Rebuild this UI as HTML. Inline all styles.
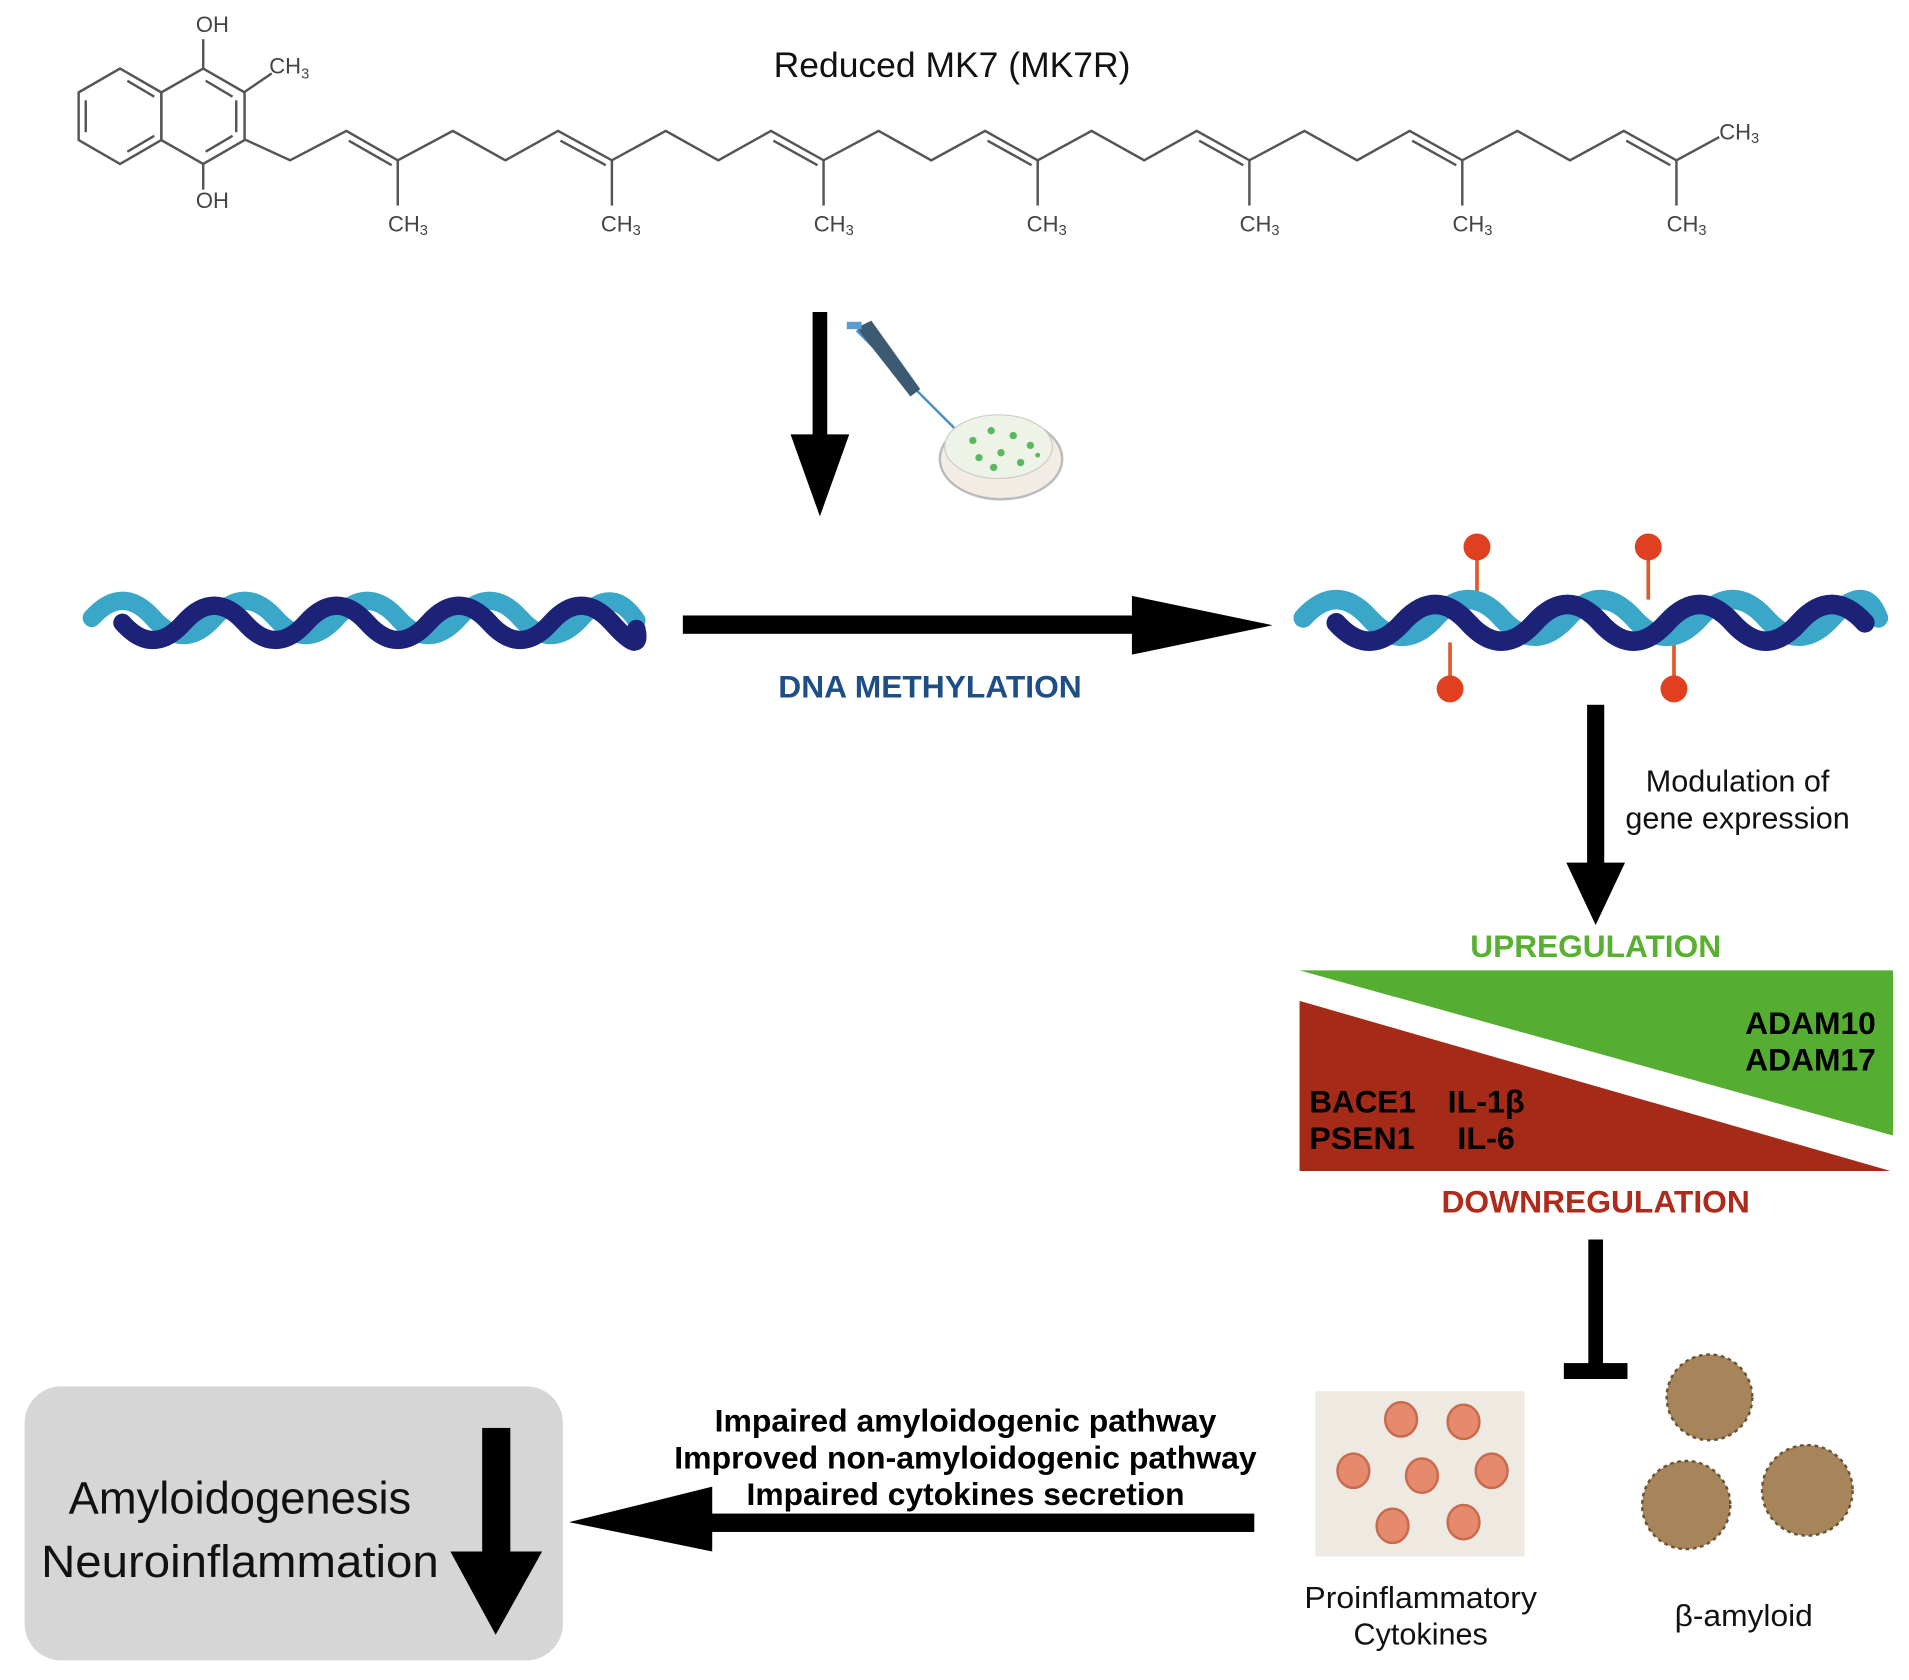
<!DOCTYPE html>
<html><head><meta charset="utf-8"><style>
html,body{margin:0;padding:0;background:#fff;}
svg{display:block}
text{font-family:"Liberation Sans",Arial,sans-serif;}
</style></head><body>
<svg width="1909" height="1680" viewBox="0 0 1560 1373" xmlns="http://www.w3.org/2000/svg">
<rect width="1560" height="1373" fill="#fff"/>
<g stroke="#555" stroke-width="2" fill="none">
<polygon points="98,56 131.8,75.5 131.8,114.5 98,134 64.2,114.5 64.2,75.5"/>
<polygon points="166,56 199.8,75.5 199.8,114.5 166,134 131.8,114.5 131.8,75.5"/>
<line x1="104" y1="66" x2="126" y2="79"/><line x1="70" y1="82" x2="70" y2="108"/><line x1="104" y1="124" x2="126" y2="111"/>
<line x1="168" y1="66" x2="190" y2="79"/><line x1="193" y1="82" x2="193" y2="108"/><line x1="168" y1="124" x2="190" y2="111"/>
<line x1="166" y1="56" x2="166" y2="32"/><line x1="166" y1="134" x2="166" y2="155"/>
<line x1="200" y1="75" x2="222" y2="60"/>
<polyline points="200,114 237,131 283,107 325,131 370,107 413,131 456,107 500,131 544,107 587,131 630,107 673,131 718,107 761,131 805,107 848,131 892,107 935,131 978,107 1021,131 1066,107 1109,131 1152,107 1195,131 1240,107 1283,131 1327,107 1370,131 1405,112"/>
<line x1="285" y1="115" x2="320" y2="135"/><line x1="458" y1="115" x2="495" y2="135"/><line x1="632" y1="115" x2="668" y2="135"/><line x1="807" y1="115" x2="843" y2="135"/><line x1="980" y1="115" x2="1016" y2="135"/><line x1="1154" y1="115" x2="1190" y2="135"/><line x1="1329" y1="115" x2="1365" y2="135"/>
<line x1="325" y1="131" x2="325" y2="168"/><line x1="500" y1="131" x2="500" y2="168"/><line x1="673" y1="131" x2="673" y2="168"/><line x1="848" y1="131" x2="848" y2="168"/><line x1="1021" y1="131" x2="1021" y2="168"/><line x1="1195" y1="131" x2="1195" y2="168"/><line x1="1370" y1="131" x2="1370" y2="168"/>
</g>
<g font-size="18" fill="#444">
<text x="160" y="26">OH</text><text x="160" y="170">OH</text><text x="220" y="60">CH<tspan font-size="12" dy="4">3</tspan></text>
<text x="317" y="189">CH<tspan font-size="12" dy="3">3</tspan></text><text x="491" y="189">CH<tspan font-size="12" dy="3">3</tspan></text><text x="665" y="189">CH<tspan font-size="12" dy="3">3</tspan></text><text x="839" y="189">CH<tspan font-size="12" dy="3">3</tspan></text><text x="1013" y="189">CH<tspan font-size="12" dy="3">3</tspan></text><text x="1187" y="189">CH<tspan font-size="12" dy="3">3</tspan></text><text x="1362" y="189">CH<tspan font-size="12" dy="3">3</tspan></text><text x="1405" y="114">CH<tspan font-size="12" dy="3">3</tspan></text>
</g>
<text x="778" y="63" font-size="29" text-anchor="middle" fill="#111">Reduced MK7 (MK7R)</text>
<rect x="664" y="255" width="12" height="105" fill="#000"/>
<polygon points="646,355 694,355 670,422" fill="#000"/>
<g>
<line x1="700" y1="270" x2="780" y2="350" stroke="#4a90c0" stroke-width="2"/>
<polygon points="700,268 712,262 752,318 744,324" fill="#3d5a73"/>
<rect x="692" y="263" width="12" height="6" fill="#5a9bd0"/>
<ellipse cx="818" cy="375" rx="50" ry="33" fill="#f3ece4" stroke="#bbb" stroke-width="2"/>
<ellipse cx="816" cy="365" rx="44" ry="26" fill="#eef3e8" stroke="#ccc"/>
<g fill="#5cb85c"><circle cx="795" cy="360" r="3"/><circle cx="810" cy="352" r="3"/><circle cx="828" cy="356" r="3"/><circle cx="842" cy="364" r="3"/><circle cx="800" cy="374" r="3"/><circle cx="818" cy="370" r="3"/><circle cx="834" cy="378" r="3"/><circle cx="812" cy="382" r="3"/><circle cx="848" cy="372" r="2"/></g>
</g>
<g fill="none" stroke-width="15" stroke-linecap="round">
<path d="M75,505 Q100,477 125,505 T175,505 T225,505 T275,505 T325,505 T375,505 T425,505 T475,505 T520,507" stroke="#3ba7c8"/>
<path d="M100,509 Q125,537 150,509 T200,509 T250,509 T300,509 T350,509 T400,509 T450,509 T500,509 T520,514" stroke="#1b2278"/>
</g>
<g stroke="#e05a2a" stroke-width="3"><line x1="1207" y1="450" x2="1207" y2="490"/><line x1="1347" y1="450" x2="1347" y2="490"/><line x1="1185" y1="525" x2="1185" y2="562"/><line x1="1368" y1="525" x2="1368" y2="562"/></g>
<g fill="none" stroke-width="16" stroke-linecap="round">
<path d="M1065,505 Q1092,475 1119,505 T1173,505 T1227,505 T1281,505 T1335,505 T1389,505 T1443,505 T1497,505 T1535,505" stroke="#3ba7c8"/>
<path d="M1092,509 Q1119,539 1146,509 T1200,509 T1254,509 T1308,509 T1362,509 T1416,509 T1470,509 T1524,509" stroke="#1b2278"/>
</g>
<g fill="#e0401f"><circle cx="1207" cy="447" r="11"/><circle cx="1347" cy="447" r="11"/><circle cx="1185" cy="563" r="11"/><circle cx="1368" cy="563" r="11"/></g>
<rect x="558" y="503" width="372" height="15" fill="#000"/>
<polygon points="925,487 1040,511 925,535" fill="#000"/>
<text x="760" y="570" font-size="26" font-weight="bold" text-anchor="middle" fill="#1d4f86" textLength="248" lengthAdjust="spacingAndGlyphs">DNA METHYLATION</text>
<rect x="1297" y="576" width="14" height="134" fill="#000"/>
<polygon points="1280,705 1328,705 1304,756" fill="#000"/>
<text x="1420" y="647" font-size="25" text-anchor="middle" fill="#111">Modulation of</text>
<text x="1420" y="677" font-size="25" text-anchor="middle" fill="#111">gene expression</text>
<text x="1304" y="782" font-size="26" font-weight="bold" text-anchor="middle" fill="#58b030" textLength="205" lengthAdjust="spacingAndGlyphs">UPREGULATION</text>
<polygon points="1062,793 1547,793 1547,928" fill="#55ad32"/>
<polygon points="1062,818 1062,957 1545,957" fill="#a52a18"/>
<text x="1533" y="845" font-size="26" font-weight="bold" text-anchor="end" fill="#000">ADAM10</text>
<text x="1533" y="875" font-size="26" font-weight="bold" text-anchor="end" fill="#000">ADAM17</text>
<text x="1070" y="909" font-size="26" font-weight="bold" fill="#000" textLength="87" lengthAdjust="spacingAndGlyphs">BACE1</text>
<text x="1183" y="909" font-size="26" font-weight="bold" fill="#000" textLength="63" lengthAdjust="spacingAndGlyphs">IL-1β</text>
<text x="1070" y="939" font-size="26" font-weight="bold" fill="#000" textLength="86" lengthAdjust="spacingAndGlyphs">PSEN1</text>
<text x="1191" y="939" font-size="26" font-weight="bold" fill="#000" textLength="47" lengthAdjust="spacingAndGlyphs">IL-6</text>
<text x="1304" y="991" font-size="26" font-weight="bold" text-anchor="middle" fill="#b02a1c" textLength="252" lengthAdjust="spacingAndGlyphs">DOWNREGULATION</text>
<rect x="1298" y="1013" width="12" height="112" fill="#000"/>
<rect x="1278" y="1114" width="52" height="13" fill="#000"/>
<rect x="1075" y="1137" width="171" height="135" fill="#eeeae2"/>
<g fill="#e68a6e" stroke="#c86a50" stroke-width="2"><ellipse cx="1145" cy="1160" rx="13" ry="14"/><ellipse cx="1196" cy="1162" rx="13" ry="14"/><ellipse cx="1106" cy="1202" rx="13" ry="14"/><ellipse cx="1162" cy="1206" rx="13" ry="14"/><ellipse cx="1219" cy="1202" rx="13" ry="14"/><ellipse cx="1138" cy="1247" rx="13" ry="14"/><ellipse cx="1196" cy="1244" rx="13" ry="14"/></g>
<g fill="#a6855a" stroke="#6e5230" stroke-width="2" stroke-dasharray="3 3"><circle cx="1397" cy="1142" r="35"/><circle cx="1378" cy="1230" r="36"/><circle cx="1477" cy="1218" r="37"/></g>
<text x="1161" y="1314" font-size="25" text-anchor="middle" fill="#111" textLength="190" lengthAdjust="spacingAndGlyphs">Proinflammatory</text>
<text x="1161" y="1344" font-size="25" text-anchor="middle" fill="#111">Cytokines</text>
<text x="1425" y="1329" font-size="25" text-anchor="middle" fill="#111" textLength="113" lengthAdjust="spacingAndGlyphs">β-amyloid</text>
<rect x="578" y="1237" width="447" height="15" fill="#000"/>
<polygon points="582,1215 465,1244 582,1268" fill="#000"/>
<text x="789" y="1170" font-size="26" font-weight="bold" text-anchor="middle" fill="#000" textLength="410" lengthAdjust="spacingAndGlyphs">Impaired amyloidogenic pathway</text>
<text x="789" y="1200" font-size="26" font-weight="bold" text-anchor="middle" fill="#000" textLength="476" lengthAdjust="spacingAndGlyphs">Improved non-amyloidogenic pathway</text>
<text x="789" y="1230" font-size="26" font-weight="bold" text-anchor="middle" fill="#000" textLength="358" lengthAdjust="spacingAndGlyphs">Impaired cytokines secretion</text>
<rect x="20" y="1133" width="440" height="224" rx="30" fill="#d6d6d6"/>
<text x="196" y="1237" font-size="37" text-anchor="middle" fill="#111" textLength="280" lengthAdjust="spacingAndGlyphs">Amyloidogenesis</text>
<text x="196" y="1289" font-size="37" text-anchor="middle" fill="#111" textLength="325" lengthAdjust="spacingAndGlyphs">Neuroinflammation</text>
<rect x="394" y="1167" width="23" height="103" fill="#000"/>
<polygon points="368,1268 443,1268 405,1336" fill="#000"/>
</svg>
</body></html>
